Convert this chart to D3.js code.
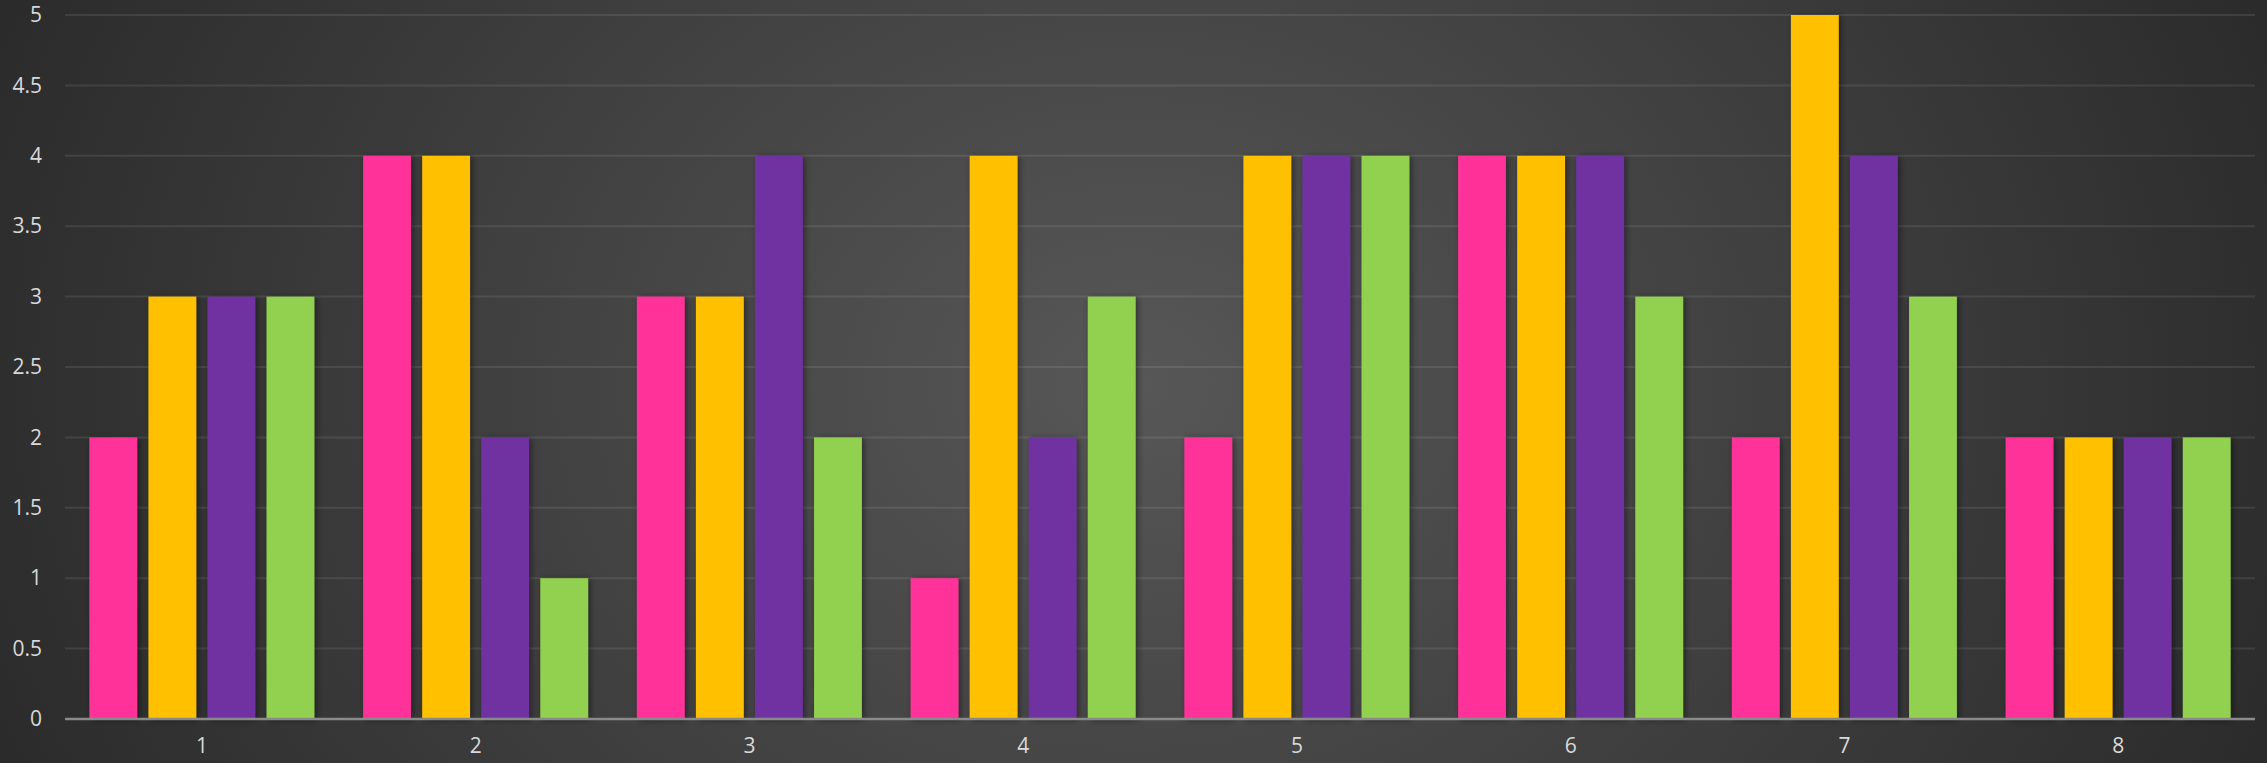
<!DOCTYPE html>
<html><head><meta charset="utf-8">
<script src="https://cdn.jsdelivr.net/npm/d3@7"></script>
<style>html,body{margin:0;padding:0;background:#262626;overflow:hidden}</style>
</head><body>
<svg id="c" width="2267" height="763"></svg>
<script>
const categories = ["1","2","3","4","5","6","7","8"];
const seriesNames = ["Series1","Series2","Series3","Series4"];
const series1 = [2,4,3,1,2,4,2,2];
const series2 = [3,4,3,4,4,4,5,2];
const series3 = [3,2,4,2,4,4,4,2];
const series4 = [3,1,2,3,4,3,3,2];
const colors = ["#FF3399","#FFC000","#7030A0","#92D050"];
const yTicks = [0,0.5,1,1.5,2,2.5,3,3.5,4,4.5,5];

const W = 2267, H = 763;
const m = {left:65, right:12, top:15, bottom:44};
const svg = d3.select("#c");
const defs = svg.append("defs");
const rg = defs.append("radialGradient").attr("id","bg").attr("cx","50%").attr("cy","50%").attr("r","60%")
  .attr("gradientTransform","translate(0.5,0.5) scale(1,2.4) translate(-0.5,-0.5)");
rg.append("stop").attr("offset","0%").attr("stop-color","#575757");
rg.append("stop").attr("offset","100%").attr("stop-color","#262626");
const f = defs.append("filter").attr("id","sh").attr("x","-20%").attr("y","-5%").attr("width","150%").attr("height","115%");
f.append("feDropShadow").attr("dx",2).attr("dy",1).attr("stdDeviation",3).attr("flood-color","#000").attr("flood-opacity",0.45);

svg.append("rect").attr("width",W).attr("height",H).attr("fill","url(#bg)");

const x0 = d3.scaleBand().domain(categories).range([m.left, W-m.right]).paddingInner(0.178).paddingOuter(0.089);
const x1 = d3.scaleBand().domain(seriesNames).range([0, x0.bandwidth()]).paddingInner(0.19);
const y = d3.scaleLinear().domain([0,5]).range([H-m.bottom, m.top]);

// gridlines
svg.append("g").selectAll("line").data(yTicks.filter(t=>t>0)).join("line")
  .attr("x1",m.left).attr("x2",W-m.right)
  .attr("y1",d=>y(d)).attr("y2",d=>y(d))
  .attr("stroke","rgba(255,255,255,0.09)").attr("stroke-width",2);

const data = [series1,series2,series3,series4];
const g = svg.append("g");
categories.forEach((c,i)=>{
  seriesNames.forEach((s,j)=>{
    g.append("rect")
      .attr("x", x0(c)+x1(s)).attr("width", x1.bandwidth())
      .attr("y", y(data[j][i])).attr("height", y(0)-y(data[j][i]))
      .attr("fill", colors[j]).attr("filter","url(#sh)");
  });
});

// y axis labels
const yAxis = d3.axisLeft(y).tickValues(yTicks).tickSize(0).tickPadding(23).tickFormat(d=>String(d));
const ya = svg.append("g").attr("transform",`translate(${m.left},0)`).call(yAxis);
ya.select(".domain").remove();
ya.selectAll("text").attr("fill","#d9d9d9").style("font-family","'Open Sans', sans-serif").style("font-size","21px");

// x axis
const xAxis = d3.axisBottom(x0).tickSize(0).tickPadding(19);
const xa = svg.append("g").attr("transform",`translate(0,${y(0)})`).call(xAxis);
xa.select(".domain").attr("d",`M${m.left},0H${W-m.right}`).attr("stroke","#8a8a8a").attr("stroke-width",2.5);
xa.selectAll("text").attr("fill","#d9d9d9").style("font-family","'Open Sans', sans-serif").style("font-size","21px");
</script>
</body></html>
